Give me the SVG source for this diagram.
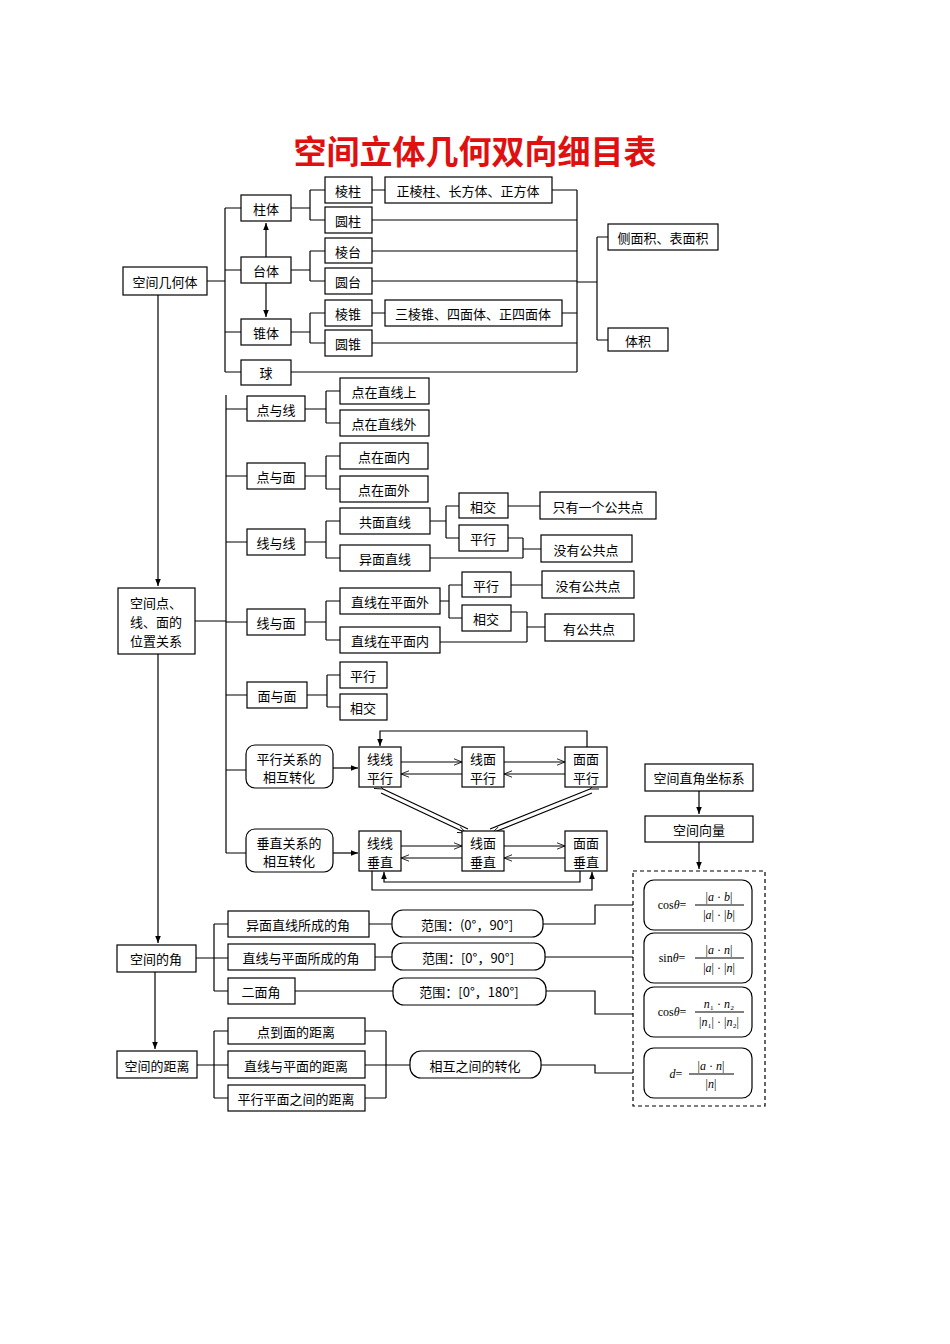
<svg xmlns="http://www.w3.org/2000/svg" width="950" height="1344" viewBox="0 0 950 1344">
<defs>
<marker id="a" viewBox="0 0 10 10" refX="10" refY="5" markerWidth="6" markerHeight="6" orient="auto"><path d="M0,1 L10,5 L0,9 z" fill="#000"/></marker>
<marker id="o" viewBox="0 0 10 10" refX="10" refY="5" markerWidth="7" markerHeight="7" orient="auto"><path d="M0,1 L10,5 L0,9" fill="none" stroke="#000"/></marker>
<style>
rect{fill:#fff;stroke:#000;stroke-width:1.2}
text{font-family:"Noto Sans CJK SC","Noto Sans",sans-serif;font-size:13px;fill:#000;text-anchor:middle;dominant-baseline:central}
.l{fill:none;stroke:#000;stroke-width:1.2}
.f{font-family:"Liberation Serif",serif;font-size:12px}
.t{font-size:33px;font-weight:bold;fill:#e01010}
</style>
</defs>
<rect x="0" y="0" width="950" height="1344" style="stroke:none"/>
<text class="t" x="475" y="150">空间立体几何双向细目表</text>
<g id="connectors">
<path class="l" d="M207,281H225M225,208V372M225,208H241M225,270H241M225,332H241M225,372H241"/>
<path class="l" d="M266,257V223" marker-end="url(#a)"/><path class="l" d="M266,283V317" marker-end="url(#a)"/>
<path class="l" d="M291,208H310M310,190V220M310,190H325M310,220H325M291,270H310M310,251V281M310,251H325M310,281H325M291,332H310M310,313V343M310,313H325M310,343H325"/>
<path class="l" d="M372,190H385M372,313H385M552,190H577M372,220H577M372,251H577M372,281H577M562,313H577M372,343H577M291,372H577M577,190V372M577,282H597M597,237V340M597,237H608M597,340H608"/>
<path class="l" d="M158,295V586" marker-end="url(#a)"/><path class="l" d="M158,654V943" marker-end="url(#a)"/><path class="l" d="M155,972V1049" marker-end="url(#a)"/>
<path class="l" d="M195,621H226M226,395V853M226,409H247M226,476H247M226,542H247M226,622H247M226,695H247M226,770H246M226,853H246"/>
<path class="l" d="M305,409H326M326,391V423M326,391H340M326,423H340M305,476H326M326,456V489M326,456H340M326,489H340M305,542H326M326,521V558M326,521H340M326,558H340M305,622H326M326,601V640M326,601H340M326,640H340M307,695H327M327,675V707M327,675H340M327,707H340"/>
<path class="l" d="M430,521H446M446,506V538M446,506H459M446,538H459M508,506H540M508,538H523M430,558H523M523,538V558M523,549H541"/>
<path class="l" d="M440,601H449M449,585V618M449,585H462M449,618H462M511,585H542M511,612H527M440,642H527M527,612V642M527,627H545"/>
<path class="l" d="M333,768H358" marker-end="url(#a)"/><path class="l" d="M333,853H358" marker-end="url(#a)"/>
<path class="l" d="M401,762H462" marker-end="url(#o)"/><path class="l" d="M462,774H401" marker-end="url(#o)"/>
<path class="l" d="M504,762H565" marker-end="url(#o)"/><path class="l" d="M565,774H504" marker-end="url(#o)"/>
<path class="l" d="M401,846H462" marker-end="url(#o)"/><path class="l" d="M462,858H401" marker-end="url(#o)"/>
<path class="l" d="M504,846H565" marker-end="url(#o)"/><path class="l" d="M565,858H504" marker-end="url(#o)"/>
<path class="l" d="M587,747V731H380V746" marker-end="url(#a)"/>
<path class="l" d="M372,871V890H592V872" marker-end="url(#a)"/>
<path class="l" d="M580,871V882H384V872" marker-end="url(#a)"/>
<path class="l" d="M383,789L468,829M381,793L466,833" marker-start="url(#o)" marker-end="url(#o)"/>
<path class="l" d="M590,789L490,829M592,793L492,833" marker-start="url(#o)" marker-end="url(#o)"/>
<path class="l" d="M699,791V814" marker-end="url(#a)"/><path class="l" d="M699,842V869" marker-end="url(#a)"/>
<path class="l" d="M196,958H214M214,924V991M214,924H228M214,958H228M214,991H228M369,924H392M375,957H392M295,991H393"/>
<path class="l" d="M543,924H595V905H643" marker-end="url(#a)"/><path class="l" d="M545,957H643" marker-end="url(#a)"/><path class="l" d="M546,991H595V1014H643" marker-end="url(#a)"/>
<path class="l" d="M197,1065H228M214,1031V1098M214,1031H228M214,1098H228M365,1031H386M365,1098H386M386,1031V1098M365,1065H410"/>
<path class="l" d="M541,1065H595V1073H643" marker-end="url(#a)"/>
</g>
<g id="n1"><rect x="123" y="267" width="84" height="28"/><text x="165" y="281">空间几何体</text></g>
<g id="n2"><rect x="241" y="195" width="50" height="26"/><text x="266" y="208">柱体</text></g>
<g id="n3"><rect x="241" y="257" width="50" height="26"/><text x="266" y="270">台体</text></g>
<g id="n4"><rect x="241" y="319" width="50" height="26"/><text x="266" y="332">锥体</text></g>
<g id="n5"><rect x="241" y="360" width="50" height="25"/><text x="266" y="372">球</text></g>
<g id="n6"><rect x="325" y="177" width="47" height="26"/><text x="348" y="190">棱柱</text></g>
<g id="n7"><rect x="325" y="207" width="47" height="26"/><text x="348" y="220">圆柱</text></g>
<g id="n8"><rect x="325" y="238" width="47" height="25"/><text x="348" y="251">棱台</text></g>
<g id="n9"><rect x="325" y="268" width="47" height="26"/><text x="348" y="281">圆台</text></g>
<g id="n10"><rect x="325" y="300" width="47" height="26"/><text x="348" y="313">棱锥</text></g>
<g id="n11"><rect x="325" y="330" width="47" height="26"/><text x="348" y="343">圆锥</text></g>
<g id="n12"><rect x="385" y="177" width="167" height="26"/><text x="468" y="190">正棱柱、长方体、正方体</text></g>
<g id="n13"><rect x="385" y="300" width="177" height="26"/><text x="473" y="313">三棱锥、四面体、正四面体</text></g>
<g id="n14"><rect x="608" y="224" width="110" height="26"/><text x="663" y="237">侧面积、表面积</text></g>
<g id="n15"><rect x="608" y="328" width="60" height="23"/><text x="638" y="340">体积</text></g>
<g id="n16"><rect x="118" y="588" width="77" height="66"/><text x="156" y="602">空间点、</text><text x="156" y="621">线、面的</text><text x="156" y="640">位置关系</text></g>
<g id="n17"><rect x="247" y="396" width="58" height="25"/><text x="276" y="409">点与线</text></g>
<g id="n18"><rect x="340" y="378" width="89" height="26"/><text x="384" y="391">点在直线上</text></g>
<g id="n19"><rect x="340" y="410" width="89" height="26"/><text x="384" y="423">点在直线外</text></g>
<g id="n20"><rect x="247" y="463" width="58" height="26"/><text x="276" y="476">点与面</text></g>
<g id="n21"><rect x="340" y="443" width="88" height="26"/><text x="384" y="456">点在面内</text></g>
<g id="n22"><rect x="340" y="476" width="88" height="26"/><text x="384" y="489">点在面外</text></g>
<g id="n23"><rect x="247" y="529" width="58" height="26"/><text x="276" y="542">线与线</text></g>
<g id="n24"><rect x="340" y="508" width="90" height="26"/><text x="385" y="521">共面直线</text></g>
<g id="n25"><rect x="340" y="545" width="90" height="26"/><text x="385" y="558">异面直线</text></g>
<g id="n26"><rect x="459" y="493" width="49" height="25"/><text x="483" y="506">相交</text></g>
<g id="n27"><rect x="459" y="525" width="49" height="26"/><text x="483" y="538">平行</text></g>
<g id="n28"><rect x="540" y="492" width="116" height="27"/><text x="598" y="506">只有一个公共点</text></g>
<g id="n29"><rect x="541" y="535" width="91" height="27"/><text x="586" y="549">没有公共点</text></g>
<g id="n30"><rect x="247" y="609" width="58" height="26"/><text x="276" y="622">线与面</text></g>
<g id="n31"><rect x="340" y="588" width="100" height="26"/><text x="390" y="601">直线在平面外</text></g>
<g id="n32"><rect x="340" y="627" width="100" height="26"/><text x="390" y="640">直线在平面内</text></g>
<g id="n33"><rect x="462" y="572" width="49" height="25"/><text x="486" y="585">平行</text></g>
<g id="n34"><rect x="462" y="605" width="49" height="26"/><text x="486" y="618">相交</text></g>
<g id="n35"><rect x="542" y="571" width="92" height="27"/><text x="588" y="585">没有公共点</text></g>
<g id="n36"><rect x="545" y="614" width="89" height="27"/><text x="589" y="628">有公共点</text></g>
<g id="n37"><rect x="247" y="682" width="60" height="26"/><text x="277" y="695">面与面</text></g>
<g id="n38"><rect x="340" y="662" width="47" height="26"/><text x="363" y="675">平行</text></g>
<g id="n39"><rect x="340" y="694" width="47" height="26"/><text x="363" y="707">相交</text></g>
<g id="n40"><rect x="246" y="745" width="87" height="43" rx="9"/><text x="289" y="758">平行关系的</text><text x="289" y="776">相互转化</text></g>
<g id="n41"><rect x="246" y="829" width="87" height="43" rx="9"/><text x="289" y="842">垂直关系的</text><text x="289" y="860">相互转化</text></g>
<g id="n42"><rect x="359" y="747" width="42" height="40"/><text x="380" y="758">线线</text><text x="380" y="777">平行</text></g>
<g id="n43"><rect x="462" y="747" width="42" height="40"/><text x="483" y="758">线面</text><text x="483" y="777">平行</text></g>
<g id="n44"><rect x="565" y="747" width="42" height="40"/><text x="586" y="758">面面</text><text x="586" y="777">平行</text></g>
<g id="n45"><rect x="359" y="831" width="42" height="40"/><text x="380" y="842">线线</text><text x="380" y="861">垂直</text></g>
<g id="n46"><rect x="462" y="831" width="42" height="40"/><text x="483" y="842">线面</text><text x="483" y="861">垂直</text></g>
<g id="n47"><rect x="565" y="831" width="42" height="40"/><text x="586" y="842">面面</text><text x="586" y="861">垂直</text></g>
<g id="n48"><rect x="645" y="764" width="108" height="27"/><text x="699" y="777">空间直角坐标系</text></g>
<g id="n49"><rect x="645" y="816" width="108" height="26"/><text x="699" y="829">空间向量</text></g>
<g id="n50"><rect x="633" y="871" width="132" height="235" style="stroke-dasharray:4,3"/></g>
<g id="n51"><rect x="644" y="880" width="108" height="50" rx="10"/><text class="f" x="672" y="905">cos<tspan font-style="italic">θ</tspan>=</text><text class="f" x="719" y="897">|<tspan font-style="italic">a</tspan> · <tspan font-style="italic">b</tspan>|</text><path class="l" d="M695,905H744"/><text class="f" x="719" y="915">|<tspan font-style="italic">a</tspan>| · |<tspan font-style="italic">b</tspan>|</text></g>
<g id="n52"><rect x="644" y="933" width="108" height="50" rx="10"/><text class="f" x="672" y="958">sin<tspan font-style="italic">θ</tspan>=</text><text class="f" x="719" y="950">|<tspan font-style="italic">a</tspan> · <tspan font-style="italic">n</tspan>|</text><path class="l" d="M695,958H744"/><text class="f" x="719" y="968">|<tspan font-style="italic">a</tspan>| · |<tspan font-style="italic">n</tspan>|</text></g>
<g id="n53"><rect x="644" y="987" width="108" height="50" rx="10"/><text class="f" x="672" y="1012">cos<tspan font-style="italic">θ</tspan>=</text><text class="f" x="719" y="1004" font-size="10"><tspan font-style="italic">n</tspan>₁ · <tspan font-style="italic">n</tspan>₂</text><path class="l" d="M695,1012H744"/><text class="f" x="719" y="1022" font-size="10">|<tspan font-style="italic">n</tspan>₁| · |<tspan font-style="italic">n</tspan>₂|</text></g>
<g id="n54"><rect x="644" y="1048" width="108" height="50" rx="10"/><text class="f" x="676" y="1074"><tspan font-style="italic">d</tspan>=</text><text class="f" x="711" y="1066">|<tspan font-style="italic">a</tspan> · <tspan font-style="italic">n</tspan>|</text><path class="l" d="M689,1074H734"/><text class="f" x="711" y="1084">|<tspan font-style="italic">n</tspan>|</text></g>
<g id="n55"><rect x="117" y="945" width="79" height="27"/><text x="156" y="958">空间的角</text></g>
<g id="n56"><rect x="228" y="911" width="141" height="26"/><text x="298" y="924">异面直线所成的角</text></g>
<g id="n57"><rect x="228" y="944" width="147" height="26"/><text x="301" y="957">直线与平面所成的角</text></g>
<g id="n58"><rect x="228" y="978" width="67" height="26"/><text x="261" y="991">二面角</text></g>
<g id="n59"><rect x="392" y="910" width="151" height="27" rx="11"/><text x="467" y="924">范围：(0°，90°]</text></g>
<g id="n60"><rect x="392" y="943" width="153" height="27" rx="11"/><text x="468" y="957">范围：[0°，90°]</text></g>
<g id="n61"><rect x="393" y="978" width="153" height="27" rx="11"/><text x="469" y="991">范围：[0°，180°]</text></g>
<g id="n62"><rect x="117" y="1051" width="80" height="27"/><text x="157" y="1065">空间的距离</text></g>
<g id="n63"><rect x="228" y="1018" width="137" height="26"/><text x="296" y="1031">点到面的距离</text></g>
<g id="n64"><rect x="228" y="1051" width="137" height="27"/><text x="296" y="1065">直线与平面的距离</text></g>
<g id="n65"><rect x="228" y="1085" width="137" height="26"/><text x="296" y="1098">平行平面之间的距离</text></g>
<g id="n66"><rect x="410" y="1051" width="131" height="27" rx="11"/><text x="475" y="1065">相互之间的转化</text></g>
</svg>
